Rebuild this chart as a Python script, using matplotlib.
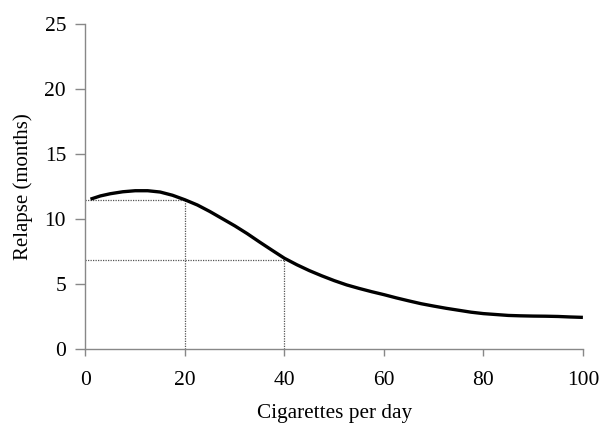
import matplotlib
matplotlib.use("Agg")
import matplotlib.pyplot as plt

cigs = [1, 3, 5, 7.5, 10, 12.5, 15, 17.5, 20, 22.5, 25, 27.5, 30, 32.5, 35, 37.5, 40,
        42.5, 45, 47.5, 50, 52.5, 55, 57.5, 60, 62.5, 65, 67.5, 70, 72.5, 75, 77.5, 80,
        82.5, 85, 87.5, 90, 92.5, 95, 97.5, 100]
relapse = [11.55, 11.8, 11.97, 12.12, 12.2, 12.2, 12.1, 11.85, 11.5, 11.1, 10.6, 10.05, 9.5, 8.9, 8.25, 7.62, 7.0,
           6.5, 6.05, 5.65, 5.28, 4.95, 4.68, 4.43, 4.2, 3.95, 3.72, 3.5, 3.32, 3.15, 3.0, 2.85, 2.74,
           2.67, 2.6, 2.57, 2.55, 2.54, 2.52, 2.48, 2.45]
ref_x = [20, 40]
ref_y = [11.5, 6.9]
xticks = [0, 20, 40, 60, 80, 100]
yticks = [0, 5, 10, 15, 20, 25]

plt.rcParams['font.family'] = ['Liberation Serif', 'DejaVu Serif']
fig = plt.figure(figsize=(6.0, 4.29), dpi=100)
ax = fig.add_axes([0.1425, 0.186, 0.829, 0.757])

for xv, yv in zip(ref_x, ref_y):
    ax.plot([0, xv], [yv, yv], color='#555555', lw=0.9, ls=(0, (1, 1)))
    ax.plot([xv, xv], [0, yv], color='#555555', lw=0.9, ls=(0, (1, 1)))

ax.plot(cigs, relapse, color='black', lw=2.4, solid_capstyle='butt', solid_joinstyle='round')

ax.set_xlim(0, 100)
ax.set_ylim(0, 25)
ax.set_xticks(xticks)
ax.set_yticks(yticks)
for s in ['top', 'right']:
    ax.spines[s].set_visible(False)
for s in ['left', 'bottom']:
    ax.spines[s].set_color('#888888')
    ax.spines[s].set_linewidth(1.0)
ax.tick_params(axis='x', direction='out', length=5, width=1.0, color='#888888', pad=11, labelsize=15.5)
ax.tick_params(axis='y', direction='out', length=7, width=1.0, color='#888888', pad=7, labelsize=15.5)
ax.set_xlabel('Cigarettes per day', fontsize=15.3, labelpad=10)
ax.set_ylabel('Relapse (months)', fontsize=15, labelpad=8)

fig.savefig('out.png', dpi=100)
